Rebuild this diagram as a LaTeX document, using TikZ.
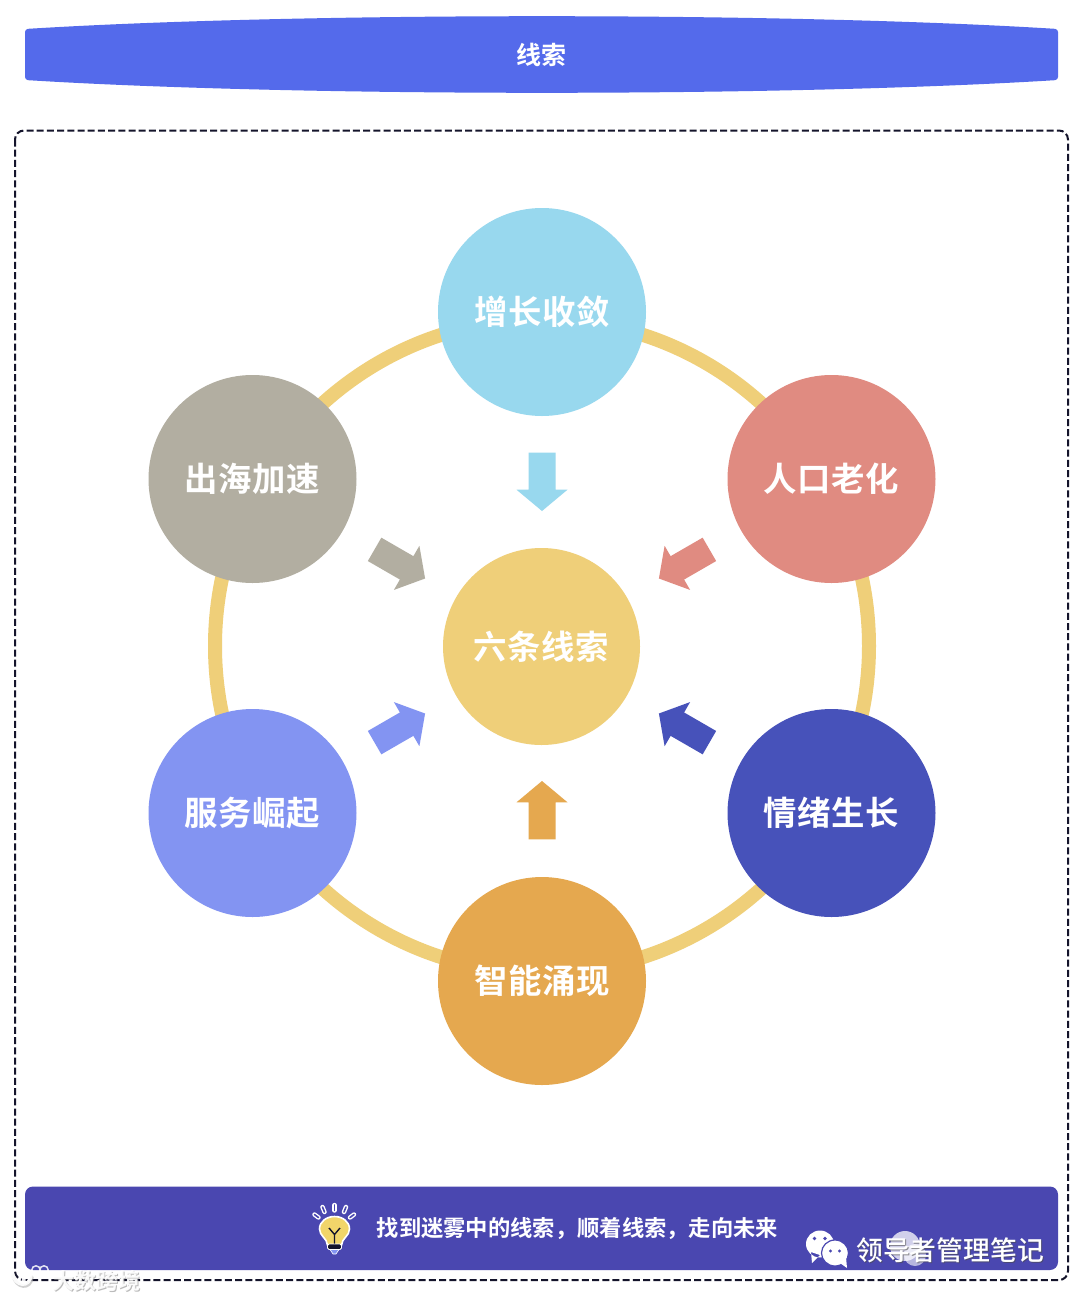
\documentclass[tikz,border=0pt]{standalone}
\usepackage{fontspec}
\setmainfont{Noto Sans CJK SC}[BoldFont={Noto Sans CJK SC Bold}]
\newfontfamily\cjkbold{Noto Sans CJK SC Bold}
\newfontfamily\cjkmed{Noto Sans CJK SC Medium}
\newfontfamily\cjkspaced{Noto Sans CJK SC Bold}[LetterSpace=2]
\definecolor{bannerblue}{HTML}{546AEB}
\definecolor{barpurple}{HTML}{4A47B0}
\definecolor{ringyellow}{HTML}{EFCF79}
\definecolor{skyc}{HTML}{98D8EE}
\definecolor{salmonc}{HTML}{E08B81}
\definecolor{indigoc}{HTML}{4752BA}
\definecolor{orangec}{HTML}{E5A84F}
\definecolor{periwinklec}{HTML}{8394F2}
\definecolor{taupec}{HTML}{B2AEA1}
\definecolor{dashc}{HTML}{14142B}
\newcommand{\blockarrow}[2]{%
  \fill[#2,rotate around={#1:(542,646)}]
    (528.5,452.7) -- (555.5,452.7) -- (555.5,489.7) -- (567.5,489.7) -- (542,511) -- (516.5,489.7) -- (528.5,489.7) -- cycle;}
\begin{document}
\begin{tikzpicture}[x=1pt,y=-1pt,
  outer/.style={circle,minimum size=208pt,inner sep=0pt,text=white,font=\fontsize{33.4}{38}\cjkspaced},
  hub/.style={circle,minimum size=197pt,inner sep=0pt,text=white,fill=ringyellow,font=\fontsize{33.4}{38}\cjkspaced},
  ray/.style={line cap=round}]
\useasboundingbox (0,0) rectangle (1080,1299);
\fill[white] (0,0) rectangle (1080,1299);
% banner
\fill[bannerblue,rounded corners=3pt] (25,29) .. controls (300,12) and (784,12) .. (1058,29)
  -- (1058,80) .. controls (784,97) and (300,97) .. (25,80) -- cycle;
\node[text=white,font=\fontsize{25}{29}\cjkbold] (title) at (541.5,54.5) {线索};
% dashed frame
\draw[dashc,line width=2pt,dash pattern=on 7pt off 3.2pt,rounded corners=9pt] (15,130.5) rectangle (1068,1280);
% ring
\draw[ringyellow,line width=14pt] (542,646) circle[radius=327];
% bottom bar
\fill[barpurple,rounded corners=8pt] (25,1186.5) rectangle (1058,1270);
% arrows
\blockarrow{0}{skyc}
\blockarrow{-60}{salmonc}
\blockarrow{-120}{indigoc}
\blockarrow{180}{orangec}
\blockarrow{120}{periwinklec}
\blockarrow{60}{taupec}
% nodes
\node[hub] (center) at (541.5,646.5) {六条线索};
\node[outer,fill=skyc] (top) at (542,312) {增长收敛};
\node[outer,fill=salmonc] (upright) at (831.5,479) {人口老化};
\node[outer,fill=indigoc] (lowright) at (831.5,813) {情绪生长};
\node[outer,fill=orangec] (bottom) at (542,981) {智能涌现};
\node[outer,fill=periwinklec] (lowleft) at (252.5,813) {服务崛起};
\node[outer,fill=taupec] (upleft) at (252.5,479) {出海加速};
% bulb icon
\foreach \xa/\ya/\xb/\yb in {314.5/1214.5/318.5/1217.5, 322.5/1207/324.5/1212, 334.5/1205/334.5/1210.5, 346/1207/344/1212, 354/1214.5/350/1217.5}{
  \draw[white,ray,line width=4.4pt] (\xa,\ya) -- (\xb,\yb);
  \draw[barpurple,ray,line width=1.6pt] (\xa,\ya) -- (\xb,\yb);
}
\path[fill=ringyellow!88!yellow,draw=white,line width=1.6pt]
  (327.5,1245) .. controls (327,1238) and (319.5,1236) .. (319.5,1229)
  .. controls (319.5,1221.5) and (326.5,1216.5) .. (334.5,1216.5)
  .. controls (342.5,1216.5) and (349.5,1221.5) .. (349.5,1229)
  .. controls (349.5,1236) and (342,1238) .. (341.5,1245) -- cycle;
\draw[dashc,line width=1.4pt] (329,1228) -- (334.5,1234.5) -- (340,1228) (334.5,1234.5) -- (334.5,1245);
\fill[dashc,draw=white,line width=.8pt,rounded corners=1.5pt] (327.5,1244) rectangle (341.5,1249.5);
\fill[periwinklec,draw=white,line width=.6pt] (330,1249.5) -- (339,1249.5) -- (336,1254) -- (333,1254) -- cycle;
\node[text=white,font=\fontsize{22.3}{27}\cjkbold,anchor=west,inner sep=0pt] (note) at (376.5,1228) {找到迷雾中的线索，顺着线索，走向未来};
% wechat watermark
\fill[white,opacity=.75] (905,1246) circle[radius=15];
\fill[white,opacity=.6] (915,1255) circle[radius=11];
\fill[white] (820,1244) ellipse[x radius=14,y radius=13.5] (811,1252) -- (812,1263) -- (820,1255) -- cycle;
\draw[barpurple,line width=1.2pt,fill=white] (835,1253) ellipse[x radius=13.5,y radius=13];
\fill[white] (840,1263) -- (847,1268) -- (846,1257) -- cycle;
\fill[barpurple] (814.5,1238.5) circle[radius=1.8] (825,1238.5) circle[radius=1.8];
\fill[barpurple] (830.5,1251) circle[radius=1.6] (839.5,1251) circle[radius=1.6];
\node[text=black!70,opacity=.6,font=\fontsize{26.8}{31}\cjkmed,anchor=west,inner sep=0pt] (wmshadow) at (857,1251) {领导者管理笔记};
\node[text=white,font=\fontsize{26.8}{31}\cjkmed,anchor=west,inner sep=0pt] (wmtext) at (856,1250) {领导者管理笔记};
% lower-left watermark
\draw[black!30,opacity=.6,line width=3.4pt,line cap=round] (13,1275) .. controls (16,1289) and (31,1290) .. (32,1277);
\draw[white,opacity=.9,line width=3.6pt,line cap=round] (12,1273) .. controls (15,1287) and (30,1288) .. (31,1275) (23,1268) -- (24,1282);
\draw[white,opacity=.85,line width=1.5pt] (36,1270) circle[radius=4.2] (44,1270) circle[radius=4.2];
\node[text=black!45,opacity=.6,font=\fontsize{22}{26}\cjkbold,anchor=west,inner sep=0pt] (brandshadow) at (53,1282) {大数跨境};
\node[text=white,opacity=.92,font=\fontsize{22}{26}\cjkbold,anchor=west,inner sep=0pt] (brand) at (52,1281) {大数跨境};
\end{tikzpicture}
\end{document}
